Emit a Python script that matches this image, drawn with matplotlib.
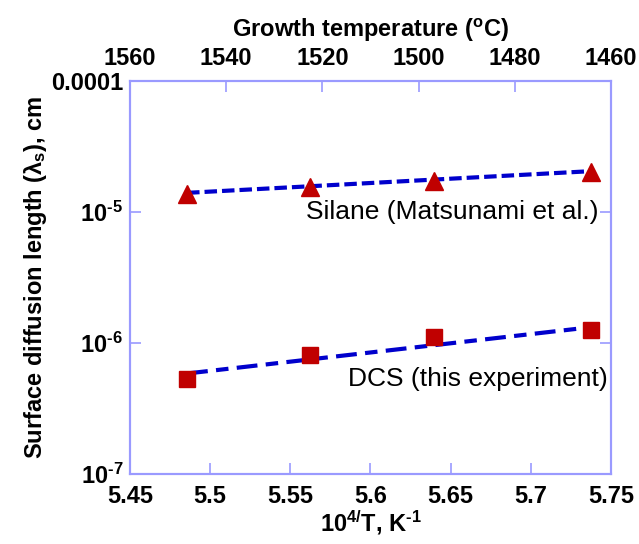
import matplotlib.pyplot as plt
from matplotlib.ticker import FixedLocator, FixedFormatter, NullLocator

plt.rcParams['font.family'] = ['Liberation Sans', 'DejaVu Sans']
plt.rcParams['mathtext.fontset'] = 'custom'
plt.rcParams['mathtext.rm'] = 'Liberation Sans:bold'
plt.rcParams['mathtext.bf'] = 'Liberation Sans:bold'
plt.rcParams['mathtext.it'] = 'Liberation Sans:bold'

# 10^4/T (1/K) for 1550, 1525, 1500, 1470 C
inv_t = [5.4856, 5.5623, 5.6396, 5.7375]

# Silane (Matsunami et al.)
silane = [1.37e-5, 1.56e-5, 1.72e-5, 2.02e-5]
silane_fit_x = [5.4856, 5.7375]
silane_fit_y = [1.40e-5, 2.05e-5]

# DCS (this experiment)
dcs = [5.27e-7, 8.15e-7, 1.12e-6, 1.25e-6]
dcs_fit_x = [5.4856, 5.7375]
dcs_fit_y = [5.85e-7, 1.32e-6]

x_ticks = [5.45, 5.5, 5.55, 5.6, 5.65, 5.7, 5.75]
x_labels = ['5.45', '5.5', '5.55', '5.6', '5.65', '5.7', '5.75']
y_ticks = [1e-7, 1e-6, 1e-5, 1e-4]
y_labels = ['10$^{\u20107}$', '10$^{\u20106}$', '10$^{\u20105}$', '0.0001']
top_ticks = [1560, 1540, 1520, 1500, 1480, 1460]

edge = '#9a9aff'

fig = plt.figure(figsize=(6.39, 5.44), dpi=100)
ax = fig.add_axes([0.2034, 0.1287, 0.7528, 0.7224])

ax.plot(silane_fit_x, silane_fit_y, color='#0000cc', lw=3, dashes=(3, 1.2))
ax.plot(dcs_fit_x, dcs_fit_y, color='#0000cc', lw=3, dashes=(5, 2, 3, 2))
ax.plot(inv_t, silane, '^', color='#c00000', ms=13, mec='#c00000')
ax.plot(inv_t, dcs, 's', color='#c00000', ms=11, mec='#c00000')

ax.set_yscale('log')
ax.set_xlim(5.45, 5.75)
ax.set_ylim(1e-7, 1e-4)
ax.xaxis.set_major_locator(FixedLocator(x_ticks))
ax.xaxis.set_major_formatter(FixedFormatter(x_labels))
ax.yaxis.set_major_locator(FixedLocator(y_ticks))
ax.yaxis.set_major_formatter(FixedFormatter(y_labels))
ax.yaxis.set_minor_locator(NullLocator())

ax.tick_params(direction='in', length=8, width=1.2, color=edge,
               labelsize=17, right=True)
ax.tick_params(axis='x', pad=8)
ax.tick_params(axis='y', pad=5)
for lab in ax.get_xticklabels() + ax.get_yticklabels():
    lab.set_fontweight('bold')
for s in ax.spines.values():
    s.set_color(edge)
    s.set_linewidth(1.5)

ax.set_xlabel('10$^{\\mathregular{4/}}$T, K$^{\\mathregular{\u20101}}$',
              fontsize=17, fontweight='bold', labelpad=0)
ax.set_ylabel(r'Surface diffusion length ($\lambda_{\mathregular{s}}$), cm',
              fontsize=17, fontweight='bold', labelpad=1)

ax2 = ax.twiny()
ax2.set_xlim(1560, 1460)
ax2.xaxis.set_major_locator(FixedLocator(top_ticks))
ax2.tick_params(direction='in', length=8, width=1.2, color=edge,
                labelsize=17, pad=8)
for lab in ax2.get_xticklabels():
    lab.set_fontweight('bold')
for s in ax2.spines.values():
    s.set_color(edge)
    s.set_linewidth(1.5)
ax2.set_xlabel(r'Growth temperature ($^{\mathregular{o}}$C)',
               fontsize=17, fontweight='bold', labelpad=7)

ax.text(5.742, 1e-5, 'Silane (Matsunami et al.)', fontsize=19,
        ha='right', va='center')
ax.text(5.748, 5.3e-7, 'DCS (this experiment)', fontsize=19,
        ha='right', va='center')

fig.savefig('out.png', dpi=100)
